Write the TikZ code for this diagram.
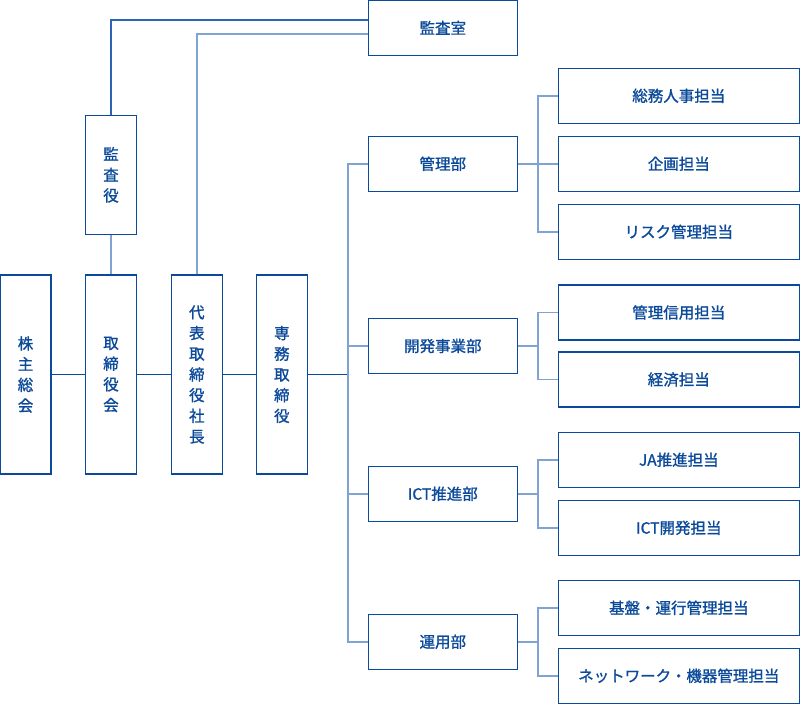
\documentclass[tikz,border=0pt]{standalone}
\usepackage{fontspec}
\setmainfont{Noto Sans CJK JP}[RawFeature={embolden=1.2}]
\definecolor{dk}{HTML}{0B4A9A}
\definecolor{lt}{HTML}{7FA3D3}
\definecolor{md}{HTML}{2E64B8}
\begin{document}
\begin{tikzpicture}[x=1pt,y=-1pt,
  box/.style={draw=dk, line width=1.2pt, fill=white, text=dk, inner sep=0pt, align=center,
    font=\fontsize{15.5}{20.7}\selectfont},
  tall/.style={box, minimum width=51pt, minimum height=199pt},
  dept/.style={box, minimum width=149pt, minimum height=55pt},
  sub/.style={box, minimum width=241pt, minimum height=55pt},
  dline/.style={draw=dk, line width=1.2pt},
  lline/.style={draw=lt, line width=1.7pt},
  mline/.style={draw=md, line width=1.5pt}]
\useasboundingbox (0,0) rectangle (800,704);
% left column
\node[tall] (kabu) at (25.5,374.5) {株\\主\\総\\会};
\node[tall] (tori) at (111,374.5) {取\\締\\役\\会};
\node[tall] (daih) at (196.8,374.5) {代\\表\\取\\締\\役\\社\\長};
\node[tall] (senm) at (281.8,374.5) {専\\務\\取\\締\\役};
\node[box, minimum width=51pt, minimum height=119pt] (kyak) at (111,174.8) {監\\査\\役};
\node[dept] (kshi) at (442.8,27.8) {監査室};
% departments
\node[dept] (kanri) at (442.8,163.8) {管理部};
\node[dept] (kaih) at (442.8,346) {開発事業部};
\node[dept] (ict) at (442.8,493.8) {ICT推進部};
\node[dept] (unyo) at (442.8,641.8) {運用部};
% sub units
\node[sub] (s1) at (678.8,95.8) {総務人事担当};
\node[sub] (s2) at (678.8,163.8) {企画担当};
\node[sub] (s3) at (678.8,231.8) {リスク管理担当};
\node[sub] (s4) at (678.8,312.5) {管理信用担当};
\node[sub] (s5) at (678.8,379.5) {経済担当};
\node[sub] (s6) at (678.8,459.8) {JA推進担当};
\node[sub] (s7) at (678.8,527.8) {ICT開発担当};
\node[sub] (s8) at (678.8,607.8) {基盤・運行管理担当};
\node[sub] (s9) at (678.8,675.8) {ネットワーク・機器管理担当};
\coordinate (tx) at (348.3,0);
\coordinate (bx) at (537.7,0);
% main chain
\draw[dline] (kabu.east) -- (tori.west);
\draw[dline] (tori.east) -- (daih.west);
\draw[dline] (daih.east) -- (senm.west);
\draw[dline] (senm.east) -- (senm.east -| tx);
% audit
\draw[lline] (kyak.south) -- (tori.north);
\draw[mline] (kyak.north) |- ([yshift=7.8pt]kshi.west);
\draw[lline] (daih.north) |- ([yshift=-5.9pt]kshi.west);
% trunk
\draw[lline] (kanri.west) -| (kanri.west -| tx) |- (unyo.west);
\draw[lline] (kaih.west) -- (kaih.west -| tx);
\draw[lline] (ict.west) -- (ict.west -| tx);
% branches
\draw[lline] (s1.west) -- (s1.west -| bx) |- (s3.west);
\draw[lline] (kanri.east) -- (s2.west);
\draw[lline] (s4.west) -- (s4.west -| bx) |- (s5.west);
\draw[lline] (kaih.east) -- (kaih.east -| bx);
\draw[lline] (s6.west) -- (s6.west -| bx) |- (s7.west);
\draw[lline] (ict.east) -- (ict.east -| bx);
\draw[lline] (s8.west) -- (s8.west -| bx) |- (s9.west);
\draw[lline] (unyo.east) -- (unyo.east -| bx);
\end{tikzpicture}
\end{document}
